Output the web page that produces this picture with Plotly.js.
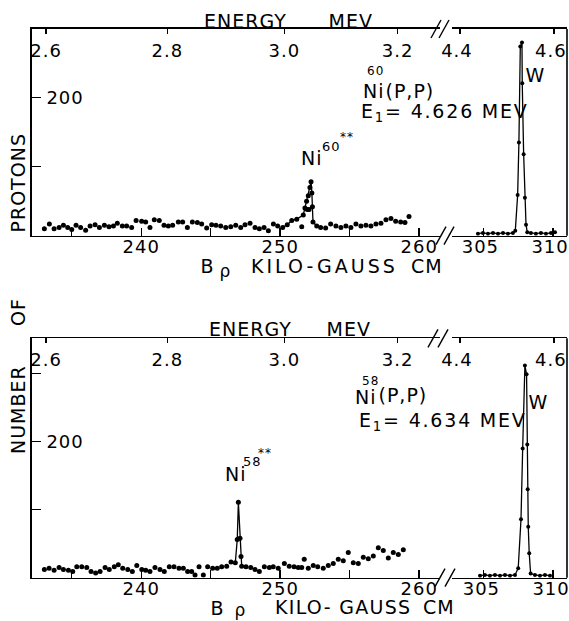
<!DOCTYPE html>
<html>
<head>
<meta charset="utf-8">
<script src="https://cdn.plot.ly/plotly-3.0.1.min.js"></script>
<style>
html,body{margin:0;padding:0;background:#fff;}
#chart{width:569px;height:621px;}
.main-svg text{letter-spacing:1px;}
</style>
</head>
<body>
<div id="chart"></div>
<script>
// ---------- DATA ----------
// Top panel: Ni60(p,p), E1 = 4.626 MeV
const ni60BgB = [233.03,233.39,233.73,234.09,234.40,234.71,235.00,235.31,235.64,236.00,236.32,236.68,236.99,237.35,237.68,238.00,238.28,238.64,238.95,239.31,239.63,240.03,240.32,240.63,240.94,241.30,241.64,241.95,242.26,242.67,242.98,243.32,243.68,244.04,244.35,244.71,245.07,245.38,245.72,246.08,246.44,246.80,247.16,247.47,247.83,248.19,248.50,248.84,249.15,249.51,249.82,251.55,251.95,252.08,252.91,253.27,253.63,254.01,254.37,254.73,255.09,255.45,255.81,256.17,256.53,256.89,257.25,257.61,257.97,258.31,258.67,258.98,259.27];
const ni60BgN = [10,17,10,12,15,12,9,15,12,8,14,16,12,15,13,14,18,14,14,12,22,21,20,12,23,22,15,14,15,20,20,12,20,19,17,11,16,15,14,12,13,15,12,16,18,12,10,12,7,17,14,13,38,38,12,11,17,14,12,14,12,17,14,15,14,17,18,23,25,21,20,19,28];
const ni60PkB = [250.18,250.51,250.83,251.19,251.66,251.78,251.90,252.02,252.14,252.22,252.28,252.32,252.36,252.63];
const ni60PkN = [12,16,22,24,30,40,50,58,70,78,62,42,20,14];
const w60B = [304.61,304.97,305.33,305.69,306.05,306.41,306.76,307.12,307.29,307.46,307.55,307.65,307.77,307.79,307.89,307.98,308.06,308.15,308.41,308.77,309.13,309.49,309.85,310.14];
const w60N = [3,4,3,4,3,4,3,4,7,59,135,274,280,221,118,55,16,5,4,3,4,3,4,5];

// Bottom panel: Ni58(p,p), E1 = 4.634 MeV
const ni58BgB = [233.03,233.37,233.73,234.09,234.40,234.76,235.07,235.36,235.72,236.08,236.39,236.72,237.04,237.40,237.70,238.06,238.35,238.67,239.03,239.36,239.68,240.04,240.32,240.63,240.99,241.35,241.66,242.02,242.36,242.72,243.03,243.34,243.63,243.87,244.16,244.47,244.78,245.14,245.47,245.79,246.15,246.46,247.54,247.88,248.19,248.50,248.86,249.22,249.50,249.86,250.30,250.65,251.00,251.30,251.55,251.73,252.02,252.38,252.70,253.10,253.46,253.82,254.18,254.54,254.90,255.26,255.62,255.98,256.34,256.70,257.06,257.42,257.78,258.14,258.50,258.86];
const ni58BgN = [12,14,11,15,12,11,9,16,16,15,9,7,9,15,12,16,19,14,12,9,18,12,11,9,15,12,9,16,16,14,14,9,9,4,16,4,16,14,14,16,17,23,16,15,12,9,16,15,16,14,21,17,16,15,15,27,14,18,16,14,18,21,27,25,37,22,21,30,28,32,44,40,29,37,34,41];
const ni58PkB = [246.77,246.91,246.99,247.11,247.18,247.23];
const ni58PkN = [22,56,111,58,31,17];
const w58B = [304.76,305.11,305.47,305.83,306.19,306.55,306.91,307.27,307.50,307.70,307.82,307.98,308.10,308.15,308.18,308.22,308.29,308.39,308.70,309.06,309.42,309.78];
const w58N = [3,4,3,4,3,4,3,4,14,86,190,312,299,196,130,75,36,6,4,3,4,3];

// Axis ticks
const brhoTicksL = [235,240,245,250,255,260];
const brhoTextL  = ['','240','','250','','260'];
const brhoTicksR = [305,310];
const brhoTextR  = ['305','310'];
const energyTicksL = [233.15,241.88,250.30,258.45];
const energyTextL  = ['2.6','2.8','3.0','3.2'];
const energyTicksR = [303.32,310.06];
const energyTextR  = ['4.4','4.6'];
const countTicksTop = [100,200];
const countTextTop  = ['','200'];
const countTicksBot = [100,200,300];
const countTextBot  = ['','200',''];

// ---------- LAYOUT HELPERS ----------
const F = 'DejaVu Sans';
const ML = 32, MR = 2, W = 569, H = 621, PW = W - ML - MR;
const px = x => (x - ML) / PW;
const py = y => 1 - y / H;
const rangeL = [232.14, 261.5];
const rangeR = [302.75, 311.0];
const domL = [0, px(440)];
const domR = [px(452), 1];
const topDom = [py(235.7), py(29)];
const botDom = [py(577.7), py(338.3)];

const base = {showline:true, linecolor:'#000', linewidth:1.6, ticks:'inside', tickcolor:'#000', tickwidth:1.4,
  showgrid:false, zeroline:false, fixedrange:true, ticklabeloverflow:'allow',
  tickfont:{family:F, size:18, color:'#000'}};

function xb(dom, range, anchor, vals, text, shift){
  return Object.assign({}, base, {domain:dom, range:range, anchor:anchor, tickmode:'array', tickvals:vals, ticktext:text, ticklen:8, ticklabelstandoff:-6, ticklabelshift:shift || 0});
}
function xt(over, range, anchor, vals, text, shift){
  return Object.assign({}, base, {overlaying:over, side:'top', range:range, anchor:anchor, tickmode:'array', tickvals:vals, ticktext:text, ticklen:5, ticklabelposition:'inside', ticklabelstandoff:11, ticklabelshift:shift || 0});
}
function yax(dom, range, anchor, vals, text){
  return Object.assign({}, base, {domain:dom, range:range, anchor:anchor, tickmode:'array', tickvals:vals, ticktext:text, ticklen:9, ticklabelposition:'inside', ticklabelstandoff:6});
}

const mk = {color:'#000', size:5};
const ln = {color:'#000', width:1.3};
const traces = [
  {x:ni60BgB, y:ni60BgN, xaxis:'x', yaxis:'y', mode:'markers', marker:mk},
  {x:ni60PkB, y:ni60PkN, xaxis:'x', yaxis:'y', mode:'lines+markers', marker:mk, line:ln},
  {x:w60B, y:w60N, xaxis:'x2', yaxis:'y', mode:'lines+markers', marker:{color:'#000', size:4}, line:ln},
  {x:[], y:[], xaxis:'x3', yaxis:'y', mode:'markers'},
  {x:[], y:[], xaxis:'x4', yaxis:'y', mode:'markers'},
  {x:ni58BgB, y:ni58BgN, xaxis:'x5', yaxis:'y2', mode:'markers', marker:mk},
  {x:ni58PkB, y:ni58PkN, xaxis:'x5', yaxis:'y2', mode:'lines+markers', marker:mk, line:ln},
  {x:w58B, y:w58N, xaxis:'x6', yaxis:'y2', mode:'lines+markers', marker:{color:'#000', size:4}, line:ln},
  {x:[], y:[], xaxis:'x7', yaxis:'y2', mode:'markers'},
  {x:[], y:[], xaxis:'x8', yaxis:'y2', mode:'markers'}
];
traces.forEach(t => {t.showlegend = false; t.hoverinfo = 'skip'; t.type = 'scatter';});

function ann(text, x, y, size, angle){
  const a = {text:text, x:px(x), y:py(y), xref:'paper', yref:'paper', showarrow:false,
    xanchor:'center', yanchor:'middle', font:{family:F, size:size, color:'#000'}};
  if (angle) a.textangle = angle;
  return a;
}
const spaced = (s, ls) => '<span style="letter-spacing:' + ls + 'px">' + s + '</span>';
const annotations = [
  // top panel
  ann('ENERGY', 245, 21, 19), ann('MEV', 350, 21, 19),
  ann('B', 207, 266, 19), ann('ρ', 225, 271, 17),
  ann(spaced('KILO-GAUSS', 3), 324, 266, 19), ann('CM', 427, 266, 19),
  ann('Ni', 374, 91, 19), ann('60', 375, 71, 12), ann('(P,P)', 410, 91, 19),
  ann(spaced('E<sub>1</sub>= 4.626 MEV', 1.8), 445, 112, 19),
  ann('Ni', 312, 158, 19), ann('60', 331, 147, 13), ann('**', 347, 137, 12),
  ann('W', 535, 75, 19),
  // bottom panel
  ann('ENERGY', 250, 329, 19), ann('MEV', 348, 329, 19),
  ann('B', 217, 608, 19), ann('ρ', 240, 610, 17),
  ann(spaced('KILO- GAUSS', 1.3), 343, 607, 19), ann('CM', 439, 607, 19),
  ann('Ni', 366, 397, 19), ann('58', 370, 381, 12), ann('(P,P)', 403, 395, 19),
  ann(spaced('E<sub>1</sub>= 4.634 MEV', 1.8), 443, 421, 19),
  ann('Ni', 236, 474, 19), ann('58', 252, 461, 13), ann('**', 265, 453, 12),
  ann('W', 538, 402, 19),
  // y title
  ann('PROTONS', 18, 183, 19, -90), ann('OF', 18, 312, 19, -90), ann('NUMBER', 18, 410, 19, -90)
];

function brk(cx, cy){
  return {type:'line', xref:'paper', yref:'paper', x0:px(cx-5), y0:py(cy+9), x1:px(cx+5), y1:py(cy-9), line:{color:'#000', width:1.4}};
}
const shapes = [
  brk(436, 29), brk(444, 29), brk(441, 235.7), brk(449, 235.7),
  brk(433, 338.3), brk(443, 338.3), brk(440, 577.7), brk(450, 577.7),
  {type:'line', xref:'paper', yref:'paper', x0:1, x1:1, y0:topDom[0], y1:topDom[1], line:{color:'#000', width:1.6}},
  {type:'line', xref:'paper', yref:'paper', x0:1, x1:1, y0:botDom[0], y1:botDom[1], line:{color:'#000', width:1.6}}
];

const layout = {
  width:W, height:H, margin:{l:ML, r:MR, t:0, b:0}, paper_bgcolor:'#fff', plot_bgcolor:'#fff',
  showlegend:false, font:{family:F, color:'#000'},
  xaxis:  xb(domL, rangeL, 'y', brhoTicksL, brhoTextL),
  xaxis2: xb(domR, rangeR, 'y', brhoTicksR, brhoTextR, -3),
  xaxis3: xt('x', rangeL, 'y', energyTicksL, energyTextL),
  xaxis4: xt('x2', rangeR, 'y', energyTicksR, energyTextR, -3),
  yaxis:  yax(topDom, [0, 299.5], 'x', countTicksTop, countTextTop),
  xaxis5: xb(domL, rangeL, 'y2', brhoTicksL, brhoTextL),
  xaxis6: xb(domR, rangeR, 'y2', brhoTicksR, brhoTextR, -2),
  xaxis7: xt('x5', rangeL, 'y2', energyTicksL, energyTextL),
  xaxis8: xt('x6', rangeR, 'y2', energyTicksR, energyTextR, -3),
  yaxis2: yax(botDom, [0, 352], 'x5', countTicksBot, countTextBot),
  annotations:annotations, shapes:shapes
};
Plotly.newPlot('chart', traces, layout, {staticPlot:true, displayModeBar:false});
</script>
</body>
</html>
